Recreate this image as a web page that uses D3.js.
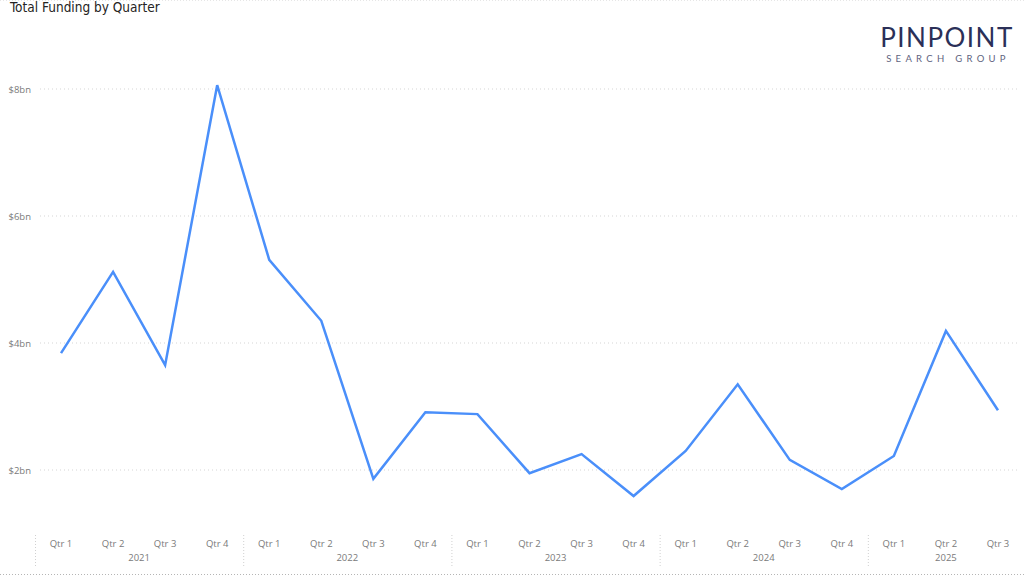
<!DOCTYPE html>
<html><head><meta charset="utf-8">
<script src="https://cdn.jsdelivr.net/npm/d3@7"></script>
<style>html,body{margin:0;padding:0;background:#fff;}svg{display:block;}</style>
</head><body>
<svg id="c" width="1024" height="576"></svg>
<script>
const years = ["2021","2021","2021","2021","2022","2022","2022","2022","2023","2023","2023","2023","2024","2024","2024","2024","2025","2025","2025"];
const quarters = ["Qtr 1","Qtr 2","Qtr 3","Qtr 4","Qtr 1","Qtr 2","Qtr 3","Qtr 4","Qtr 1","Qtr 2","Qtr 3","Qtr 4","Qtr 1","Qtr 2","Qtr 3","Qtr 4","Qtr 1","Qtr 2","Qtr 3"];
const funding = [3.84,5.12,3.65,8.06,5.31,4.35,1.86,2.91,2.88,1.95,2.25,1.59,2.30,3.35,2.16,1.70,2.22,4.19,2.94];
const yTicks = [2,4,6,8];
const yTickLabels = ["$2bn","$4bn","$6bn","$8bn"];

const svg = d3.select("#c");
const keys = funding.map((d,i)=>i);
const x = d3.scaleBand().domain(keys).range([35,1024]);
const y = d3.scaleLinear().domain([0,8]).range([597,89]);
const font = "'Segoe UI','Open Sans','DejaVu Sans',sans-serif";

// top border
svg.append("line").attr("x1",0).attr("x2",1024).attr("y1",0.5).attr("y2",0.5)
  .attr("stroke","#e6e6e6").attr("stroke-dasharray","1,2");

// title
svg.append("text").attr("x",10).attr("y",11.5).text("Total Funding by Quarter")
  .attr("font-family","'DejaVu Sans Condensed','Roboto',sans-serif").attr("font-size",13.5).attr("fill","#252423");

// logo
svg.append("text").attr("x",947).attr("y",47).attr("text-anchor","middle").text("PINPOINT")
  .attr("font-family","'Lato','Inter',sans-serif").attr("font-weight",400).attr("font-size",26)
  .attr("letter-spacing",1.5).attr("fill","#2b3058");
svg.append("text").attr("x",948).attr("y",62).attr("text-anchor","middle").text("SEARCH GROUP")
  .attr("font-family","'Lato','Inter',sans-serif").attr("font-size",9.5)
  .attr("letter-spacing",4.3).attr("fill","#60637e");

// y gridlines and labels
const gy = svg.append("g");
yTicks.forEach((t,i)=>{
  gy.append("line").attr("x1",40).attr("x2",1020).attr("y1",y(t)).attr("y2",y(t))
    .attr("stroke","#d5d5d5").attr("stroke-dasharray","1,3");
  gy.append("text").attr("x",31).attr("y",y(t)+3.5).attr("text-anchor","end").text(yTickLabels[i])
    .attr("font-family",font).attr("font-size",9.5).attr("fill","#7a7a7a");
});

// x axis labels
const gx = svg.append("g");
keys.forEach(i=>{
  gx.append("text").attr("x",x(i)+x.bandwidth()/2).attr("y",547).attr("text-anchor","middle")
    .text(quarters[i]).attr("font-family",font).attr("font-size",9.5).attr("fill","#7a7a7a");
});
const yearGroups = d3.groups(keys, i=>years[i]);
yearGroups.forEach(([yr, idx])=>{
  const x0 = x(idx[0]), x1 = x(idx[idx.length-1])+x.bandwidth();
  gx.append("text").attr("x",(x0+x1)/2).attr("y",561).attr("text-anchor","middle")
    .text(yr).attr("font-family",font).attr("font-size",9.5).attr("fill","#7a7a7a");
  gx.append("line").attr("x1",x0+0.5).attr("x2",x0+0.5).attr("y1",535).attr("y2",567)
    .attr("stroke","#d0d0d0").attr("stroke-dasharray","1,2");
});
svg.append("line").attr("x1",0).attr("x2",1024).attr("y1",574.5).attr("y2",574.5)
  .attr("stroke","#b5b5b5").attr("stroke-dasharray","1,2");

// line
const line = d3.line().x((d,i)=>x(i)+x.bandwidth()/2).y(d=>y(d));
svg.append("path").datum(funding).attr("d",line).attr("fill","none")
  .attr("stroke","#4a8ffa").attr("stroke-width",2.5).attr("stroke-linejoin","miter");
</script>
</body></html>
